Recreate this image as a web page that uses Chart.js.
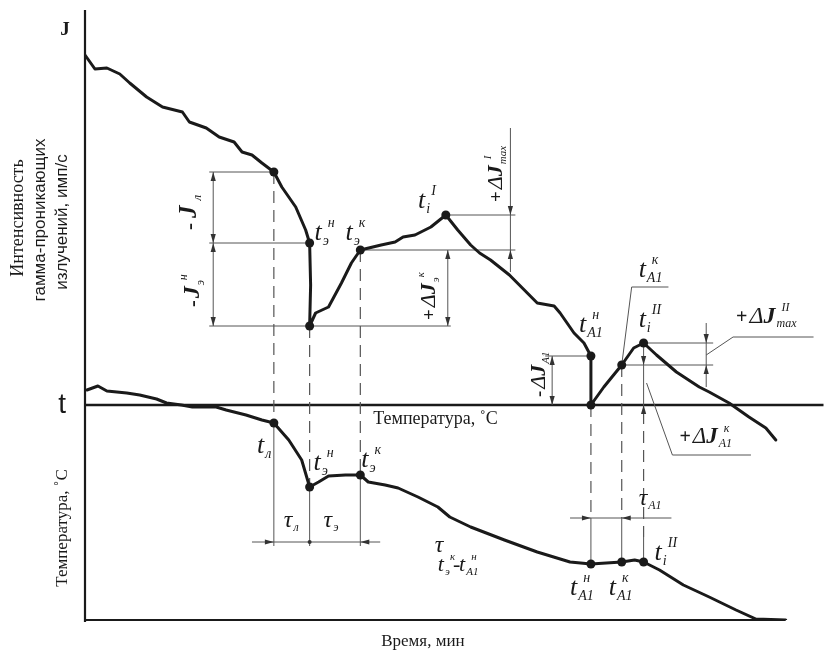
<!DOCTYPE html>
<html lang="ru">
<head>
<meta charset="utf-8">
<title>Интенсивность гамма-излучения и температура</title>
<script src="https://cdn.jsdelivr.net/npm/chart.js@4.4.1/dist/chart.umd.min.js"></script>
<style>
  html, body { margin: 0; padding: 0; background: #fff; overflow: hidden; }
  #wrap { width: 828px; height: 650px; position: relative; }
</style>
</head>
<body>
<div id="wrap"><canvas id="diagram"></canvas></div>
<script>
// =========================
//  DATA (время, усл. ед. / интенсивность и температура, усл. ед.)
// =========================
const jTime = [0, 10, 22, 35, 45, 62, 78, 98, 105, 122, 135, 150, 158, 168, 178, 190,
  198, 212, 222, 226, 227, 226, 232, 245, 258, 268, 277, 298, 312, 320, 332, 348, 363,
  375, 388, 397, 408, 427, 442, 455, 472, 478, 492, 502, 509, 509, 522, 540, 552, 562,
  575, 595, 618, 628, 648, 668, 685, 695];
const jValue = [350, 336, 337, 331, 322, 308, 298, 293, 283, 277, 268, 263, 253, 250, 242, 233,
  218, 198, 175, 162, 120, 79, 92, 98, 122, 142, 155, 160, 163, 168, 170, 178, 190,
  175, 160, 152, 145, 130, 115, 102, 99, 92, 72, 62, 49, 0, 18, 40, 57, 62,
  50, 33, 18, 13, 2, -12, -23, -35];

const tempTime = [2, 13, 22, 42, 55, 72, 82, 97, 108, 132, 142, 162, 178, 190, 205, 218, 226,
  235, 245, 262, 277, 285, 302, 315, 335, 355, 367, 388, 422, 455, 488, 509, 540, 553,
  562, 578, 602, 628, 655, 675, 705];
const tempValue = [15, 19, 14, 12, 10, 6, 2, 0, -2, -2, -5, -10, -15, -18, -35, -55, -82,
  -77, -71, -70, -70, -77, -80, -83, -92, -102, -112, -122, -135, -147, -157, -159, -157, -155,
  -157, -165, -180, -192, -205, -214, -215];

// характерные точки: tл, tэн, tэн(низ), tэк, ti I, tA1н, tA1н(низ), tA1к, ti II
const jKeyTime = [190, 226, 226, 277, 363, 509, 509, 540, 562];
const jKeyValue = [233, 162, 79, 155, 190, 49, 0, 40, 62];
// tл, tэн, tэк, tA1н, tA1к, ti II
const tempKeyTime = [190, 226, 277, 509, 540, 562];
const tempKeyValue = [-18, -82, -70, -159, -157, -157];

const xRange = [0, 743];
const yRange = [-215, 395];

const toPoints = (xs, ys) => xs.map((x, i) => ({ x, y: ys[i] }));

// =========================
//  DRAWING HELPERS
// =========================
const SERIF = '"Liberation Serif", "DejaVu Serif", serif';
const SANS = '"Liberation Sans", Arial, sans-serif';
const INK = "#1a1a1a";
const THIN = "#555";

function sym(ctx, x, y, o) {
  const s = o.size || 26;
  const small = Math.round(s * 0.52);
  let cx = x;
  ctx.fillStyle = INK;
  ctx.textAlign = "left";
  ctx.textBaseline = "alphabetic";
  if (o.pre) {
    ctx.font = `${o.bold ? "bold " : ""}${Math.round(s * 0.85)}px ${SERIF}`;
    ctx.fillText(o.pre, cx, y);
    cx += ctx.measureText(o.pre).width + (o.gap ?? 2);
  }
  if (o.delta) {
    ctx.font = `italic ${s}px ${SERIF}`;
    ctx.fillText("Δ", cx, y);
    cx += ctx.measureText("Δ").width;
  }
  ctx.font = `${o.bold ? "bold " : ""}italic ${s}px ${SERIF}`;
  ctx.fillText(o.base, cx, y);
  cx += ctx.measureText(o.base).width + (o.gap ?? 1);
  ctx.font = `italic ${small}px ${SERIF}`;
  let w = 0;
  const shift = o.supShift ?? 5;
  if (o.sub) {
    ctx.fillText(o.sub, cx, y + s * 0.18);
    w = ctx.measureText(o.sub).width;
  }
  if (o.sup) {
    ctx.fillText(o.sup, cx + shift, y - s * 0.5);
    w = Math.max(w, ctx.measureText(o.sup).width + shift);
  }
  return cx + w;
}

function rsym(ctx, x, y, o) {
  ctx.save();
  ctx.translate(x, y);
  ctx.rotate(-Math.PI / 2);
  sym(ctx, 0, 0, o);
  ctx.restore();
}

function seg(ctx, pts, w, color, dash) {
  ctx.save();
  ctx.beginPath();
  ctx.strokeStyle = color;
  ctx.lineWidth = w;
  ctx.setLineDash(dash || []);
  pts.forEach((p, i) => (i ? ctx.lineTo(p[0], p[1]) : ctx.moveTo(p[0], p[1])));
  ctx.stroke();
  ctx.restore();
}

function arrow(ctx, x, y, dir) {
  const L = 9, H = 2.6;
  const d = { up: [0, 1], down: [0, -1], left: [1, 0], right: [-1, 0] }[dir];
  ctx.save();
  ctx.fillStyle = "#333";
  ctx.beginPath();
  ctx.moveTo(x, y);
  ctx.lineTo(x + d[0] * L - d[1] * H, y + d[1] * L - d[0] * H);
  ctx.lineTo(x + d[0] * L + d[1] * H, y + d[1] * L + d[0] * H);
  ctx.closePath();
  ctx.fill();
  ctx.restore();
}

// =========================
//  ANNOTATION PLUGIN
// =========================
const diagramPlugin = {
  id: "diagram",
  beforeDatasetsDraw(chart) {
    const { ctx } = chart;
    const X = v => chart.scales.x.getPixelForValue(v);
    const Y = v => chart.scales.y.getPixelForValue(v);
    const P = (x, y) => [X(x), Y(y)];

    const [xL, xEn, , xEk, xI1, xA1n, , xA1k, xI2] = jKeyTime;
    const [vL, vEn, vEb, vEk, vI1, vA1n, , vA1k, vI2] = jKeyValue;
    const [tL, tEn, tEk, tA1n, tA1k, tI2] = tempKeyValue;

    // axes
    seg(ctx, [P(0, yRange[1]), P(0, yRange[0] - 2)], 2.2, INK);
    seg(ctx, [P(0, yRange[0]), P(705, yRange[0])], 2.2, INK);
    seg(ctx, [P(0, 0), P(xRange[1], 0)], 2.6, INK);

    // dashed projections
    const dash = [12, 7];
    seg(ctx, [P(xL, vL), P(xL, tL)], 1.2, THIN, dash);
    seg(ctx, [P(xEn, vEb), P(xEn, tEn)], 1.2, THIN, dash);
    seg(ctx, [P(xEk, vEk), P(xEk, tEk)], 1.2, THIN, dash);
    seg(ctx, [P(xA1n, 0), P(xA1n, -113)], 1.2, THIN, dash);
    seg(ctx, [P(xA1k, vA1k), P(xA1k, -113)], 1.2, THIN, dash);
    seg(ctx, [P(xI2, -7), P(xI2, -132)], 1.2, THIN, dash);

    // time intervals (lower graph)
    seg(ctx, [P(xL, tL), P(xL, -141)], 1, THIN);
    seg(ctx, [P(xEn, tEn), P(xEn, -141)], 1, THIN);
    seg(ctx, [P(xEk, tEk), P(xEk, -141)], 1, THIN);
    seg(ctx, [P(168, -137), P(297, -137)], 1, THIN);
    arrow(ctx, X(xL), Y(-137), "right");
    arrow(ctx, X(xEk), Y(-137), "left");
    ctx.fillStyle = "#333";
    ctx.beginPath(); ctx.arc(X(xEn), Y(-137), 2, 0, Math.PI * 2); ctx.fill();

    seg(ctx, [P(xA1n, -113), P(xA1n, tA1n)], 1, THIN);
    seg(ctx, [P(xA1k, -113), P(xA1k, tA1k)], 1, THIN);
    seg(ctx, [P(xI2, -132), P(xI2, tI2)], 1, THIN);
    seg(ctx, [P(488, -113), P(590, -113)], 1, THIN);
    arrow(ctx, X(xA1n), Y(-113), "right");
    arrow(ctx, X(xA1k), Y(-113), "left");

    // -Jл, -Jэн
    seg(ctx, [P(125, vL), P(xL, vL)], 1, THIN);
    seg(ctx, [P(125, vEn), P(xEn, vEn)], 1, THIN);
    seg(ctx, [P(125, vEb), P(368, vEb)], 1, THIN);
    seg(ctx, [P(129, vL), P(129, vEb)], 1, THIN);
    arrow(ctx, X(129), Y(vL), "up");
    arrow(ctx, X(129), Y(vEn), "down");
    arrow(ctx, X(129), Y(vEn), "up");
    arrow(ctx, X(129), Y(vEb), "down");

    // +ΔJэк
    seg(ctx, [P(xEk, vEk), P(433, vEk)], 1, THIN);
    seg(ctx, [P(365, vEk), P(365, vEb)], 1, THIN);
    arrow(ctx, X(365), Y(vEk), "up");
    arrow(ctx, X(365), Y(vEb), "down");

    // +ΔJmax I
    seg(ctx, [P(xI1, vI1), P(433, vI1)], 1, THIN);
    seg(ctx, [P(428, 277), P(428, 133)], 1, THIN);
    arrow(ctx, X(428), Y(vI1), "down");
    arrow(ctx, X(428), Y(vEk), "up");

    // -ΔJA1
    seg(ctx, [P(463, vA1n), P(xA1n, vA1n)], 1, THIN);
    seg(ctx, [P(470, vA1n), P(470, 0)], 1, THIN);
    arrow(ctx, X(470), Y(vA1n), "up");
    arrow(ctx, X(470), Y(0), "down");

    // +ΔJmax II
    seg(ctx, [P(xI2, vI2), P(632, vI2)], 1, THIN);
    seg(ctx, [P(xA1k, vA1k), P(632, vA1k)], 1, THIN);
    seg(ctx, [P(625, 82), P(625, 18)], 1, THIN);
    arrow(ctx, X(625), Y(vI2), "down");
    arrow(ctx, X(625), Y(vA1k), "up");
    seg(ctx, [P(625, 50), P(652, 68), P(733, 68)], 1, THIN);

    // +ΔJA1к
    seg(ctx, [P(xI2, vI2), P(xI2, -7)], 1, THIN);
    arrow(ctx, X(xI2), Y(vA1k), "down");
    arrow(ctx, X(xI2), Y(0), "up");
    seg(ctx, [P(565, 22), P(591, -50), P(670, -50)], 1, THIN);

    // leader for tA1к
    seg(ctx, [P(xA1k, vA1k), P(550, 118), P(587, 118)], 1, THIN);
  },

  afterDatasetsDraw(chart) {
    const { ctx } = chart;
    const X = v => chart.scales.x.getPixelForValue(v);
    const Y = v => chart.scales.y.getPixelForValue(v);

    // axis titles
    ctx.save();
    ctx.fillStyle = INK;
    ctx.font = `bold 19px ${SERIF}`;
    ctx.fillText("J", X(-25), Y(370));
    ctx.font = `28px ${SANS}`;
    ctx.fillText("t", X(-27), Y(-8));

    ctx.textAlign = "center";
    ctx.textBaseline = "middle";
    const vt = (text, x, y, font) => {
      ctx.save();
      ctx.translate(X(x), Y(y));
      ctx.rotate(-Math.PI / 2);
      ctx.font = font;
      ctx.fillText(text, 0, 0);
      ctx.restore();
    };
    vt("Интенсивность", -67, 187, `18px ${SERIF}`);
    vt("гамма-проникающих", -45, 185, `17px ${SANS}`);
    vt("излучений, имп/с", -23, 183, `17px ${SANS}`);
    vt("Температура, ˚С", -23, -123, `17px ${SERIF}`);

    ctx.textAlign = "left";
    ctx.textBaseline = "alphabetic";
    ctx.font = `18px ${SERIF}`;
    ctx.fillText("Температура, ˚С", X(290), Y(-19));
    ctx.font = `17px ${SERIF}`;
    ctx.fillText("Время, мин", X(298), Y(-241));
    ctx.restore();

    // upper point labels
    sym(ctx, X(231), Y(165), { base: "t", sub: "э", sup: "н" });
    sym(ctx, X(262), Y(165), { base: "t", sub: "э", sup: "к" });
    sym(ctx, X(335), Y(197), { base: "t", sub: "i", sup: "I" });
    sym(ctx, X(497), Y(73), { base: "t", sub: "A1", sup: "н" });
    sym(ctx, X(557), Y(78), { base: "t", sub: "i", sup: "II" });
    sym(ctx, X(557), Y(128), { base: "t", sub: "A1", sup: "к" });

    // lower point labels
    sym(ctx, X(173), Y(-48), { base: "t", sub: "л" });
    sym(ctx, X(230), Y(-65), { base: "t", sub: "э", sup: "н" });
    sym(ctx, X(278), Y(-62), { base: "t", sub: "э", sup: "к" });
    sym(ctx, X(200), Y(-122), { base: "τ", sub: "л", size: 24 });
    sym(ctx, X(240), Y(-122), { base: "τ", sub: "э", size: 24 });
    sym(ctx, X(352), Y(-147), { base: "τ", size: 24 });
    const e = sym(ctx, X(355), Y(-166), { base: "t", sub: "э", sup: "к", size: 22 });
    ctx.font = `22px ${SERIF}`;
    ctx.fillText("-", e - 2, Y(-166));
    sym(ctx, e + 4, Y(-166), { base: "t", sub: "A1", sup: "н", size: 22 });
    sym(ctx, X(557), Y(-100), { base: "τ", sub: "A1", size: 24 });
    sym(ctx, X(488), Y(-190), { base: "t", sub: "A1", sup: "н" });
    sym(ctx, X(527), Y(-190), { base: "t", sub: "A1", sup: "к" });
    sym(ctx, X(573), Y(-155), { base: "t", sub: "i", sup: "II" });

    // intensity increments
    rsym(ctx, X(112), Y(175), { pre: "-", base: "J", sub: "л", bold: true, size: 25, gap: 5 });
    rsym(ctx, X(115), Y(98), { pre: "-", base: "J", sub: "э", sup: "н", bold: true, size: 24 });
    rsym(ctx, X(352), Y(85), { pre: "+", delta: true, base: "J", sub: "э", sup: "к", bold: true, size: 22 });
    rsym(ctx, X(420), Y(203), { pre: "+", delta: true, base: "J", sub: "max", sup: "I", bold: true, size: 22 });
    rsym(ctx, X(463), Y(8), { pre: "-", delta: true, base: "J", sub: "A1", bold: true, size: 22 });
    sym(ctx, X(655), Y(82), { pre: "+", delta: true, base: "J", sub: "max", sup: "II", bold: true, size: 24 });
    sym(ctx, X(598), Y(-38), { pre: "+", delta: true, base: "J", sub: "A1", sup: "к", bold: true, size: 23 });
  }
};

// =========================
//  CHART
// =========================
const curveStyle = {
  borderColor: INK,
  borderWidth: 3,
  pointRadius: 0,
  tension: 0,
  borderJoinStyle: "round",
  borderCapStyle: "round",
  fill: false
};
const keyStyle = {
  showLine: false,
  pointRadius: 4.5,
  pointBackgroundColor: INK,
  pointBorderWidth: 0
};

new Chart(document.getElementById("diagram"), {
  type: "line",
  data: {
    datasets: [
      { label: "Интенсивность", data: toPoints(jTime, jValue), ...curveStyle },
      { label: "Температура", data: toPoints(tempTime, tempValue), ...curveStyle },
      { label: "J точки", data: toPoints(jKeyTime, jKeyValue), ...keyStyle },
      { label: "t точки", data: toPoints(tempKeyTime, tempKeyValue), ...keyStyle }
    ]
  },
  options: {
    responsive: true,
    maintainAspectRatio: false,
    animation: false,
    events: [],
    layout: { padding: { left: 85, top: 10, right: 0, bottom: 30 } },
    plugins: { legend: { display: false }, tooltip: { enabled: false } },
    scales: {
      x: { type: "linear", min: xRange[0], max: xRange[1], display: false },
      y: { type: "linear", min: yRange[0], max: yRange[1], display: false }
    }
  },
  plugins: [diagramPlugin]
});
</script>
</body>
</html>
